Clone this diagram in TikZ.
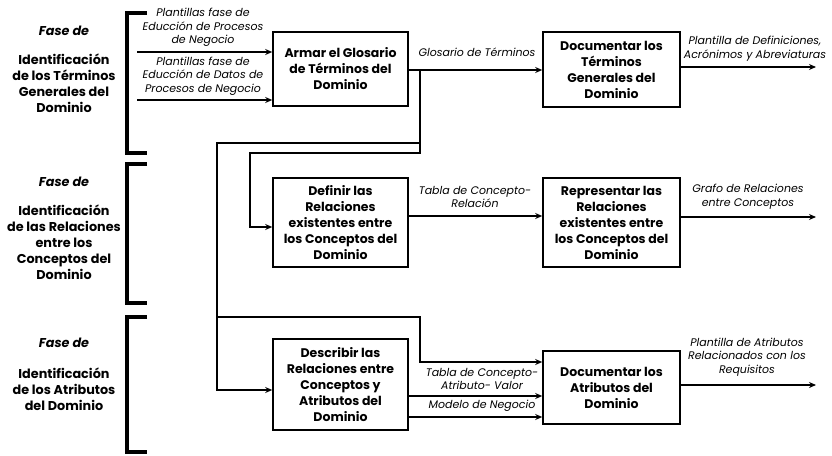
\documentclass[tikz,border=0pt]{standalone}
\usepackage{fontspec}
\setmainfont{Poppins}
\usetikzlibrary{arrows.meta}
\begin{document}
\begin{tikzpicture}[x=1pt,y=-1pt,
  box/.style={draw,line width=1.6pt,rectangle,inner sep=0pt,align=center,
    font=\fontsize{12.5}{16}\selectfont\bfseries},
  conn/.style={line width=1.4pt},
  arr/.style={conn,-{Stealth[length=7pt,width=6pt]}},
  lbl/.style={align=center,inner sep=0pt,font=\fontsize{11}{13.5}\selectfont\itshape},
  phase/.style={align=center,inner sep=0pt,font=\fontsize{12.8}{16}\selectfont\bfseries},
  brk/.style={line width=4pt}]
\useasboundingbox (0,0) rectangle (832,455);
% phase brackets
\draw[brk] (147,13) -- (127,13) -- (127,153) -- (147,153);
\draw[brk] (147,164) -- (127,164) -- (127,303) -- (147,303);
\draw[brk] (147,317) -- (127,317) -- (127,452) -- (147,452);
% phase texts
\node[phase] (f1a) at (64,31) {\itshape Fase de};
\node[phase,anchor=north] (f1b) at (64,54) {Identificación\\de los Términos\\Generales del\\Dominio};
\node[phase] (f2a) at (64,182) {\itshape Fase de};
\node[phase,anchor=north] (f2b) at (64,205) {Identificación\\de las Relaciones\\entre los\\Conceptos del\\Dominio};
\node[phase] (f3a) at (64,343) {\itshape Fase de};
\node[phase,anchor=north] (f3b) at (64,368) {Identificación\\de los Atributos\\del Dominio};
% boxes
\node[box,minimum width=135pt,minimum height=74pt] (b1) at (340.5,69) {Armar el Glosario\\de Términos del\\Dominio};
\node[box,minimum width=137pt,minimum height=75pt] (b2) at (611.5,69.5) {Documentar los\\Términos\\Generales del\\Dominio};
\node[box,minimum width=135pt,minimum height=89pt] (b3) at (340.5,222.5) {Definir las\\Relaciones\\existentes entre\\los Conceptos del\\Dominio};
\node[box,minimum width=137pt,minimum height=89pt] (b4) at (611.5,222.5) {Representar las\\Relaciones\\existentes entre\\los Conceptos del\\Dominio};
\node[box,minimum width=135pt,minimum height=91pt] (b5) at (340.5,384.5) {Describir las\\Relaciones entre\\Conceptos y\\Atributos del\\Dominio};
\node[box,minimum width=137pt,minimum height=73pt] (b6) at (611.5,387.5) {Documentar los\\Atributos del\\Dominio};
% free ends
\coordinate (in1) at (137,52);
\coordinate (in2) at (137,100);
\coordinate (out1) at (816,67);
\coordinate (out2) at (816,217);
\coordinate (out3) at (816,385);
\coordinate (j1) at (420,70);
% inputs to b1
\draw[arr] (in1) -- (in1 -| b1.west);
\draw[arr] (in2) -- (in2 -| b1.west);
\node[lbl] (l1) at (203,27.5) {Plantillas fase de\\Educción de Procesos\\de Negocio};
\node[lbl] (l2) at (203,76) {Plantillas fase de\\Educción de Datos de\\Procesos de Negocio};
% b1 -> b2
\draw[arr] (j1 -| b1.east) -- (j1 -| b2.west);
\node[lbl] (l3) at (477,52) {Glosario de Términos};
\draw[arr] (out1 -| b2.east) -- (out1);
\node[lbl] (l4) at (755,48.5) {Plantilla de Definiciones,\\Acrónimos y Abreviaturas};
% branches
\draw[arr] (j1) -- (420,143) -- (217,143) -- (217,390) -- (b5.west |- 0,390);
\draw[arr] (j1) -- (420,153) -- (250,153) -- (250,227) -- (b3.west |- 0,227);
\draw[arr] (217,317) -- (420,317) -- (420,362) -- (b6.west |- 0,362);
% b3 -> b4
\draw[arr] (b3.east |- 0,216) -- (b4.west |- 0,216);
\node[lbl] (l5) at (475,197) {Tabla de Concepto-\\Relación};
\draw[arr] (out2 -| b4.east) -- (out2);
\node[lbl] (l6) at (748,196.5) {Grafo de Relaciones\\entre Conceptos};
% b5 -> b6
\draw[arr] (b5.east |- 0,396) -- (b6.west |- 0,396);
\node[lbl] (l7) at (482,379) {Tabla de Concepto-\\Atributo- Valor};
\draw[arr] (b5.east |- 0,417) -- (b6.west |- 0,417);
\node[lbl] (l8) at (482,406) {Modelo de Negocio};
\draw[arr] (out3 -| b6.east) -- (out3);
\node[lbl] (l9) at (747,357) {Plantilla de Atributos\\Relacionados con los\\Requisitos};
\end{tikzpicture}
\end{document}
